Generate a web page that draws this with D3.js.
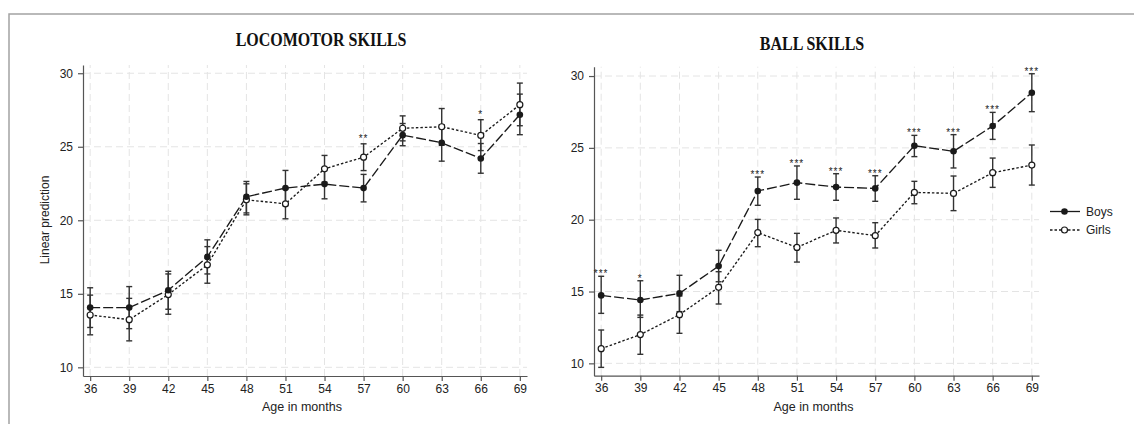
<!DOCTYPE html>
<html>
<head>
<meta charset="utf-8">
<script src="https://cdn.jsdelivr.net/npm/d3@7"></script>
<style>
  body { margin: 0; background: #fff; }
  svg { display: block; font-family: "Liberation Sans", Arial, sans-serif; }
</style>
</head>
<body>
<svg id="chart" width="1134" height="424"></svg>
<script>
// ages on the x axis
const ages = [36, 39, 42, 45, 48, 51, 54, 57, 60, 63, 66, 69];
const yTicks = [10, 15, 20, 25, 30];

// locomotor skills
const locoBoys   = [14.06, 14.06, 15.24, 17.51, 21.60, 22.19, 22.46, 22.19, 25.79, 25.27, 24.20, 27.18];
const locoBoysLo = [12.71, 12.63, 13.95, 16.35, 20.50, 20.99, 21.46, 21.25, 25.07, 24.02, 23.20, 25.82];
const locoBoysHi = [15.41, 15.49, 16.53, 18.67, 22.64, 23.39, 23.46, 23.12, 26.58, 26.50, 25.22, 28.58];
const locoGirls   = [13.56, 13.24, 14.95, 16.97, 21.39, 21.12, 23.50, 24.29, 26.26, 26.36, 25.77, 27.86];
const locoGirlsLo = [12.21, 11.80, 13.61, 15.72, 20.37, 20.10, 22.59, 23.38, 25.40, 25.10, 24.74, 26.43];
const locoGirlsHi = [14.91, 14.69, 16.35, 18.21, 22.48, 22.14, 24.41, 25.20, 27.10, 27.60, 26.84, 29.33];
const locoStars = ["", "", "", "", "", "", "", "**", "", "", "*", ""];

// ball skills
const ballBoys   = [14.73, 14.41, 14.87, 16.77, 22.00, 22.58, 22.27, 22.18, 25.15, 24.76, 26.52, 28.84];
const ballBoysLo = [13.48, 13.20, 13.60, 15.68, 21.00, 21.42, 21.35, 21.28, 24.39, 23.60, 25.59, 27.52];
const ballBoysHi = [16.06, 15.75, 16.13, 17.87, 22.97, 23.74, 23.20, 23.06, 25.87, 25.92, 27.47, 30.16];
const ballGirls   = [11.02, 12.00, 13.39, 15.29, 19.10, 18.07, 19.26, 18.89, 21.90, 21.83, 23.27, 23.80];
const ballGirlsLo = [9.72, 10.63, 12.09, 14.13, 18.12, 17.05, 18.38, 18.03, 21.11, 20.63, 22.25, 22.41];
const ballGirlsHi = [12.32, 13.36, 14.69, 16.38, 20.02, 19.05, 20.12, 19.79, 22.67, 23.04, 24.29, 25.20];
const ballStars = ["***", "*", "", "", "***", "***", "***", "***", "***", "***", "***", "***"];

const legendLabels = ["Boys", "Girls"];

const svg = d3.select('#chart');

// outer frame (top + left edges only show in the crop)
svg.append('path')
    .attr('d', 'M9,424 L9,14 L1134,14')
    .attr('fill', 'none')
    .attr('stroke', '#a3a3a3')
    .attr('stroke-width', 1.5);

function series(mean, lo, hi) {
    return ages.map((a, i) => ({ age: a, v: mean[i], lo: lo[i], hi: hi[i] }));
}

const panels = [
    {
        title: 'LOCOMOTOR SKILLS', titleX: 321, titleY: 46,
        xr: [83, 527], yr: [376, 65], yd: [9.41, 30.56], yLabel: true,
        boys: series(locoBoys, locoBoysLo, locoBoysHi),
        girls: series(locoGirls, locoGirlsLo, locoGirlsHi),
        stars: locoStars, starGap: 3
    },
    {
        title: 'BALL SKILLS', titleX: 812, titleY: 50,
        xr: [594, 1039], yr: [375.7, 66.7], yd: [9.14, 30.65], yLabel: false,
        boys: series(ballBoys, ballBoysLo, ballBoysHi),
        girls: series(ballGirls, ballGirlsLo, ballGirlsHi),
        stars: ballStars, starGap: 0
    }
];

const ink = '#1a1a1a';

panels.forEach(p => {
    let x = d3.scaleLinear().domain([35.45, 69.55]).range(p.xr);
    let y = d3.scaleLinear().domain(p.yd).range(p.yr);
    let g = svg.append('g');

    // grid
    g.append('g').selectAll('line').data(yTicks).join('line')
        .attr('x1', p.xr[0]).attr('x2', p.xr[1])
        .attr('y1', d => y(d)).attr('y2', d => y(d))
        .attr('stroke', '#e4e4e4').attr('stroke-width', 1)
        .attr('stroke-dasharray', '7,4');
    g.append('g').selectAll('line').data(ages).join('line')
        .attr('x1', d => x(d)).attr('x2', d => x(d))
        .attr('y1', p.yr[0]).attr('y2', p.yr[1])
        .attr('stroke', '#e4e4e4').attr('stroke-width', 1)
        .attr('stroke-dasharray', '7,4');

    // axes
    let xAxis = d3.axisBottom(x).tickValues(ages).tickSize(5).tickSizeOuter(0).tickPadding(3);
    let yAxis = d3.axisLeft(y).tickValues(yTicks).tickSize(5).tickSizeOuter(0).tickPadding(5);
    let gx = g.append('g').attr('transform', 'translate(0,' + p.yr[0] + ')').call(xAxis);
    let gy = g.append('g').attr('transform', 'translate(' + p.xr[0] + ',0)').call(yAxis);
    [gx, gy].forEach(a => {
        a.selectAll('path, line').attr('stroke', '#555').attr('stroke-width', 1.2);
        a.selectAll('text').attr('fill', '#222').style('font-size', '12px');
    });

    g.append('text')
        .attr('x', (p.xr[0] + p.xr[1]) / 2 - 3).attr('y', 411)
        .attr('text-anchor', 'middle').attr('fill', '#222')
        .style('font-size', '12.5px')
        .text('Age in months');

    if (p.yLabel) {
        g.append('text')
            .attr('transform', 'translate(49,220) rotate(-90)')
            .attr('text-anchor', 'middle').attr('fill', '#222')
            .style('font-size', '12px')
            .text('Linear prediction');
    }

    g.append('text')
        .attr('transform', 'translate(' + p.titleX + ',' + p.titleY + ') scale(1,1.2)')
        .attr('text-anchor', 'middle')
        .style('font-family', '"Liberation Serif", "Times New Roman", serif')
        .style('font-weight', 'bold')
        .style('font-size', '16px')
        .attr('fill', '#111')
        .text(p.title);

    let line = d3.line().x(d => x(d.age)).y(d => y(d.v));

    g.append('path').datum(p.girls).attr('d', line)
        .attr('fill', 'none').attr('stroke', ink).attr('stroke-width', 1.35)
        .attr('stroke-dasharray', '2.5,2');
    g.append('path').datum(p.boys).attr('d', line)
        .attr('fill', 'none').attr('stroke', ink).attr('stroke-width', 1.35)
        .attr('stroke-dasharray', '10,3');

    // error bars
    [p.boys, p.girls].forEach(s => {
        let eb = g.append('g').selectAll('g').data(s).join('g')
            .attr('stroke', '#333').attr('stroke-width', 1.4);
        eb.append('line')
            .attr('x1', d => x(d.age)).attr('x2', d => x(d.age))
            .attr('y1', d => y(d.lo)).attr('y2', d => y(d.hi));
        eb.append('line')
            .attr('x1', d => x(d.age) - 3).attr('x2', d => x(d.age) + 3)
            .attr('y1', d => y(d.lo)).attr('y2', d => y(d.lo));
        eb.append('line')
            .attr('x1', d => x(d.age) - 3).attr('x2', d => x(d.age) + 3)
            .attr('y1', d => y(d.hi)).attr('y2', d => y(d.hi));
    });

    // markers
    g.append('g').selectAll('circle').data(p.girls).join('circle')
        .attr('cx', d => x(d.age)).attr('cy', d => y(d.v)).attr('r', 3)
        .attr('fill', '#fff').attr('stroke', ink).attr('stroke-width', 1.2);
    g.append('g').selectAll('circle').data(p.boys).join('circle')
        .attr('cx', d => x(d.age)).attr('cy', d => y(d.v)).attr('r', 3.3)
        .attr('fill', ink);

    // significance stars
    g.append('g').selectAll('text').data(ages).join('text')
        .attr('x', d => x(d))
        .attr('y', (d, i) => y(Math.max(p.boys[i].hi, p.girls[i].hi)) + 1 - p.starGap)
        .attr('text-anchor', 'middle')
        .style('font-size', '10px')
        .style('letter-spacing', '1px')
        .attr('fill', '#222')
        .text((d, i) => p.stars[i]);
});

// legend
const legend = svg.append('g');
const legendY = d3.scalePoint().domain(legendLabels).range([211.5, 230]);
legendLabels.forEach(lab => {
    let ly = legendY(lab);
    let boys = lab === 'Boys';
    legend.append('line')
        .attr('x1', 1050).attr('x2', 1080).attr('y1', ly).attr('y2', ly)
        .attr('stroke', ink).attr('stroke-width', 1.3)
        .attr('stroke-dasharray', boys ? null : '2.5,2');
    legend.append('circle')
        .attr('cx', 1064.5).attr('cy', ly).attr('r', boys ? 3.3 : 3)
        .attr('fill', boys ? ink : '#fff')
        .attr('stroke', boys ? null : ink).attr('stroke-width', 1.2);
    legend.append('text')
        .attr('x', 1086).attr('y', ly).attr('dy', '0.35em')
        .style('font-size', '12px').attr('fill', '#222')
        .text(lab);
});
</script>
</body>
</html>
